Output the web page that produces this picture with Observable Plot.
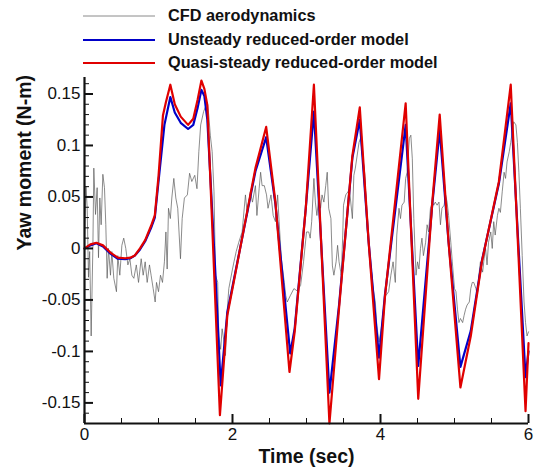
<!DOCTYPE html>
<html><head><meta charset="utf-8">
<script src="https://cdn.jsdelivr.net/npm/d3@7"></script>
<script src="https://cdn.jsdelivr.net/npm/@observablehq/plot@0.6"></script>
<style>
body{margin:0;background:#fff;font-family:"Liberation Sans",Arial,sans-serif;}
#legend{position:relative;height:70px;width:535px;}
.row{position:absolute;left:0;width:535px;height:24px;}
.row .ln{position:absolute;left:83px;width:72px;top:11px;}
.row .tx{position:absolute;left:168px;top:1px;font-weight:bold;font-size:16.3px;color:#111;line-height:20px;white-space:nowrap;}
#chart svg{display:block;}
</style></head>
<body>
<div id="legend"></div>
<div id="chart"></div>
<script>
const seriesNames = ["CFD aerodynamics", "Unsteady reduced-order model", "Quasi-steady reduced-order model"];
const seriesColors = ["#8a8a8a", "#0000c8", "#e00000"];

const cfdT = [0,0.02,0.036,0.054,0.07,0.09,0.113,0.126,0.149,0.171,0.189,0.207,0.225,0.248,0.27,0.288,0.306,0.324,0.351,0.369,0.396,0.432,0.45,0.477,0.505,0.53,0.558,0.586,0.613,0.64,0.667,0.7,0.73,0.766,0.793,0.82,0.847,0.878,0.9,0.928,0.955,0.973,1.0,1.027,1.054,1.08,1.1,1.117,1.135,1.16,1.18,1.207,1.234,1.26,1.297,1.32,1.35,1.39,1.42,1.45,1.49,1.52,1.545,1.57,1.61,1.66,1.68,1.7,1.725,1.75,1.77,1.8,1.815,1.84,1.86,1.88,1.905,1.93,1.95,2.0,2.02,2.05,2.085,2.13,2.175,2.2,2.24,2.27,2.31,2.33,2.36,2.38,2.4,2.43,2.46,2.48,2.52,2.55,2.58,2.61,2.63,2.66,2.7,2.72,2.74,2.78,2.83,2.87,2.92,2.96,3.0,3.03,3.05,3.07,3.1,3.12,3.14,3.17,3.19,3.21,3.235,3.26,3.28,3.3,3.33,3.35,3.37,3.4,3.42,3.44,3.47,3.49,3.5,3.53,3.56,3.58,3.62,3.64,3.66,3.71,3.73,3.75,3.79,3.82,3.84,3.86,3.88,3.9,3.93,3.95,3.98,4.01,4.04,4.07,4.11,4.14,4.17,4.2,4.22,4.25,4.27,4.29,4.32,4.34,4.36,4.39,4.41,4.43,4.45,4.48,4.5,4.52,4.54,4.56,4.58,4.61,4.63,4.65,4.675,4.7,4.72,4.74,4.765,4.79,4.81,4.83,4.86,4.88,4.9,4.92,4.95,4.97,5.0,5.02,5.04,5.06,5.08,5.11,5.13,5.15,5.17,5.2,5.22,5.24,5.26,5.29,5.31,5.33,5.35,5.38,5.4,5.42,5.44,5.46,5.49,5.51,5.53,5.55,5.58,5.6,5.62,5.645,5.67,5.69,5.71,5.74,5.76,5.78,5.8,5.83,5.85,5.87,5.89,5.915,5.94,5.96,5.98,6.0];
const cfdV = [0.005,0.06,0.04,-0.028,-0.003,-0.085,0,0.078,0.033,0.059,-0.009,0.049,0.023,0.072,0.059,0.023,-0.029,0,-0.026,-0.003,-0.029,-0.042,-0.007,-0.026,0.003,0.01,0,-0.016,-0.01,-0.026,-0.029,-0.016,-0.033,-0.01,-0.026,-0.013,-0.033,-0.016,-0.026,-0.039,-0.052,-0.033,-0.042,-0.026,-0.033,-0.013,0.016,-0.02,0.039,0.029,0.049,0.068,0.049,0.039,-0.01,0.029,0.049,0.052,0.073,0.065,0.071,0.058,0.094,0.12,0.133,0.142,0.129,0.11,0.094,0.055,-0.026,-0.033,-0.085,-0.098,-0.078,-0.088,-0.104,-0.059,-0.039,-0.02,-0.013,-0.003,0.006,0.016,0.052,0.032,0.055,0.045,0.061,0.032,0.058,0.074,0.061,0.061,0.052,0.039,0.052,0.032,0.026,0.052,0.026,-0.01,-0.033,-0.046,-0.052,-0.046,-0.039,-0.041,-0.036,-0.013,0.016,0.016,0.01,0.026,0.068,0.045,0.032,0.052,0.039,0.052,0.045,0.061,0.074,0.039,0.029,-0.017,-0.026,-0.013,0.003,-0.013,-0.026,0.013,0.042,0.052,0.055,0.058,0.029,0.071,0.078,0.103,0.107,0.094,0.071,0.019,0.006,-0.013,-0.023,-0.039,-0.052,-0.075,-0.091,-0.078,-0.059,-0.046,-0.042,-0.026,-0.013,-0.033,0.013,0.039,0.029,0.042,0.045,0.068,0.074,0.107,0.11,0.087,0.029,-0.026,-0.013,-0.02,0,0.01,-0.007,0.006,0.023,0.016,0.039,0.045,0.042,0.045,0.042,0.045,0.023,0.039,0.042,0.052,0.045,0.032,0.006,-0.013,-0.039,-0.042,-0.059,-0.072,-0.068,-0.072,-0.065,-0.059,-0.055,-0.052,-0.039,-0.033,-0.033,-0.039,-0.046,-0.026,-0.013,-0.023,-0.01,0,-0.016,0.006,0.016,0,0.026,0.013,0.032,0.039,0.035,0.055,0.074,0.068,0.084,0.094,0.103,0.113,0.123,0.12,0.103,0.074,0.039,-0.007,-0.052,-0.072,-0.085,-0.081];

const unsteadyT = [0,0.08,0.16,0.25,0.35,0.45,0.55,0.62,0.68,0.75,0.82,0.9,0.95,1.0,1.08,1.16,1.22,1.3,1.4,1.47,1.53,1.58,1.62,1.66,1.7,1.77,1.84,1.93,2.0,2.31,2.455,2.58,2.78,2.84,2.99,3.1,3.31,3.44,3.62,3.72,3.84,3.98,4.06,4.34,4.51,4.7,4.8,4.92,5.08,5.22,5.37,5.6,5.76,5.96,6.0];
const unsteadyV = [0,0.003,0.005,0.002,-0.005,-0.01,-0.0105,-0.0095,-0.007,-0.001,0.007,0.02,0.03,0.065,0.12,0.147,0.132,0.122,0.116,0.12,0.137,0.154,0.148,0.125,0.071,-0.026,-0.133,-0.062,-0.037,0.075,0.108,0.043,-0.102,-0.078,0.039,0.133,-0.14,-0.055,0.088,0.125,0.006,-0.106,-0.045,0.12,-0.114,0.043,0.115,0.006,-0.115,-0.08,-0.012,0.063,0.141,-0.125,-0.1];

const quasiT = [0,0.08,0.16,0.25,0.35,0.45,0.55,0.62,0.68,0.75,0.82,0.9,0.95,1.0,1.06,1.1,1.16,1.22,1.3,1.4,1.47,1.53,1.58,1.62,1.66,1.83,1.93,2.0,2.31,2.455,2.58,2.77,2.84,2.99,3.1,3.31,3.44,3.62,3.72,3.84,3.98,4.06,4.34,4.51,4.7,4.8,4.92,5.08,5.22,5.37,5.6,5.76,5.96,6.0];
const quasiV = [0,0.004,0.0055,0.003,-0.004,-0.009,-0.0095,-0.009,-0.0068,0,0.008,0.022,0.032,0.07,0.129,0.142,0.159,0.14,0.128,0.12,0.126,0.145,0.163,0.155,0.139,-0.162,-0.065,-0.039,0.078,0.118,0.045,-0.12,-0.081,0.039,0.159,-0.17,-0.058,0.09,0.137,0.006,-0.127,-0.047,0.141,-0.146,0.045,0.13,0.006,-0.135,-0.085,-0.013,0.065,0.159,-0.158,-0.092];

const xMajor = [0,2,4,6];
const yMajor = [-0.15,-0.1,-0.05,0,0.05,0.1,0.15];
const yMajorLabels = ["-0.15","-0.1","-0.05","0","0.05","0.1","0.15"];
const xDomain = [0,6];
const yDomain = [-0.17,0.166];

// legend
const legend = document.getElementById("legend");
const rowTops = [4,28,51];
const widths = [1,2.2,2.2];
seriesNames.forEach((n,i)=>{
  const r = document.createElement("div");
  r.className="row"; r.style.top=rowTops[i]+"px";
  r.innerHTML = `<svg class="ln" width="72" height="4" style="top:10px"><line x1="0" x2="72" y1="2" y2="2" stroke="${seriesColors[i]}" stroke-width="${widths[i]}"/></svg><span class="tx">${n}</span>`;
  legend.appendChild(r);
});

const cfd = cfdT.map((t,i)=>({t, v:cfdV[i]}));
const uns = unsteadyT.map((t,i)=>({t, v:unsteadyV[i]}));
const qs = quasiT.map((t,i)=>({t, v:quasiV[i]}));
const xMinor = d3.range(0, 6.001, 0.5).filter(d=>!xMajor.includes(d));
const yMinor = d3.range(-17, 17).map(d=>d/100).filter(d=>Math.abs(d*20 - Math.round(d*20))>1e-6);

const plot = Plot.plot({
  width: 535, height: 401,
  marginLeft: 84, marginRight: 7, marginTop: 7, marginBottom: 48,
  style: {fontFamily: '"Liberation Sans", Arial, sans-serif', fontSize: "15px", color: "#111"},
  x: {domain: xDomain},
  y: {domain: yDomain},
  marks: [
    Plot.line(cfd, {x:"t", y:"v", stroke: "#5a5a5a", strokeWidth: 0.7}),
    Plot.line(uns, {x:"t", y:"v", stroke: seriesColors[1], strokeWidth: 2.2}),
    Plot.line(qs, {x:"t", y:"v", stroke: seriesColors[2], strokeWidth: 2.2}),
    Plot.axisX(xMinor, {tickSize: -5, text: null, strokeWidth: 1, label: null}),
    Plot.axisX(xMajor, {tickSize: -9, tickPadding: 13, strokeWidth: 2, fontSize: 17, label: null}),
    Plot.axisY(yMinor, {tickSize: -5, text: null, strokeWidth: 1, label: null}),
    Plot.axisY(yMajor, {tickSize: -9, tickPadding: 13, strokeWidth: 2, fontSize: 17, label: null, tickFormat: d => yMajorLabels[yMajor.indexOf(d)]}),
    Plot.ruleX([xDomain[0]], {strokeWidth: 2.2}),
    Plot.ruleY([yDomain[0]], {strokeWidth: 2.2}),
    Plot.text(["Time (sec)"], {frameAnchor: "bottom", dy: 39, fontWeight: "bold", fontSize: 19.5}),
    Plot.text(["Yaw moment (N-m)"], {frameAnchor: "left", dx: -60, rotate: -90, fontWeight: "bold", fontSize: 19.5})
  ]
});
document.getElementById("chart").appendChild(plot);
</script>
</body></html>
